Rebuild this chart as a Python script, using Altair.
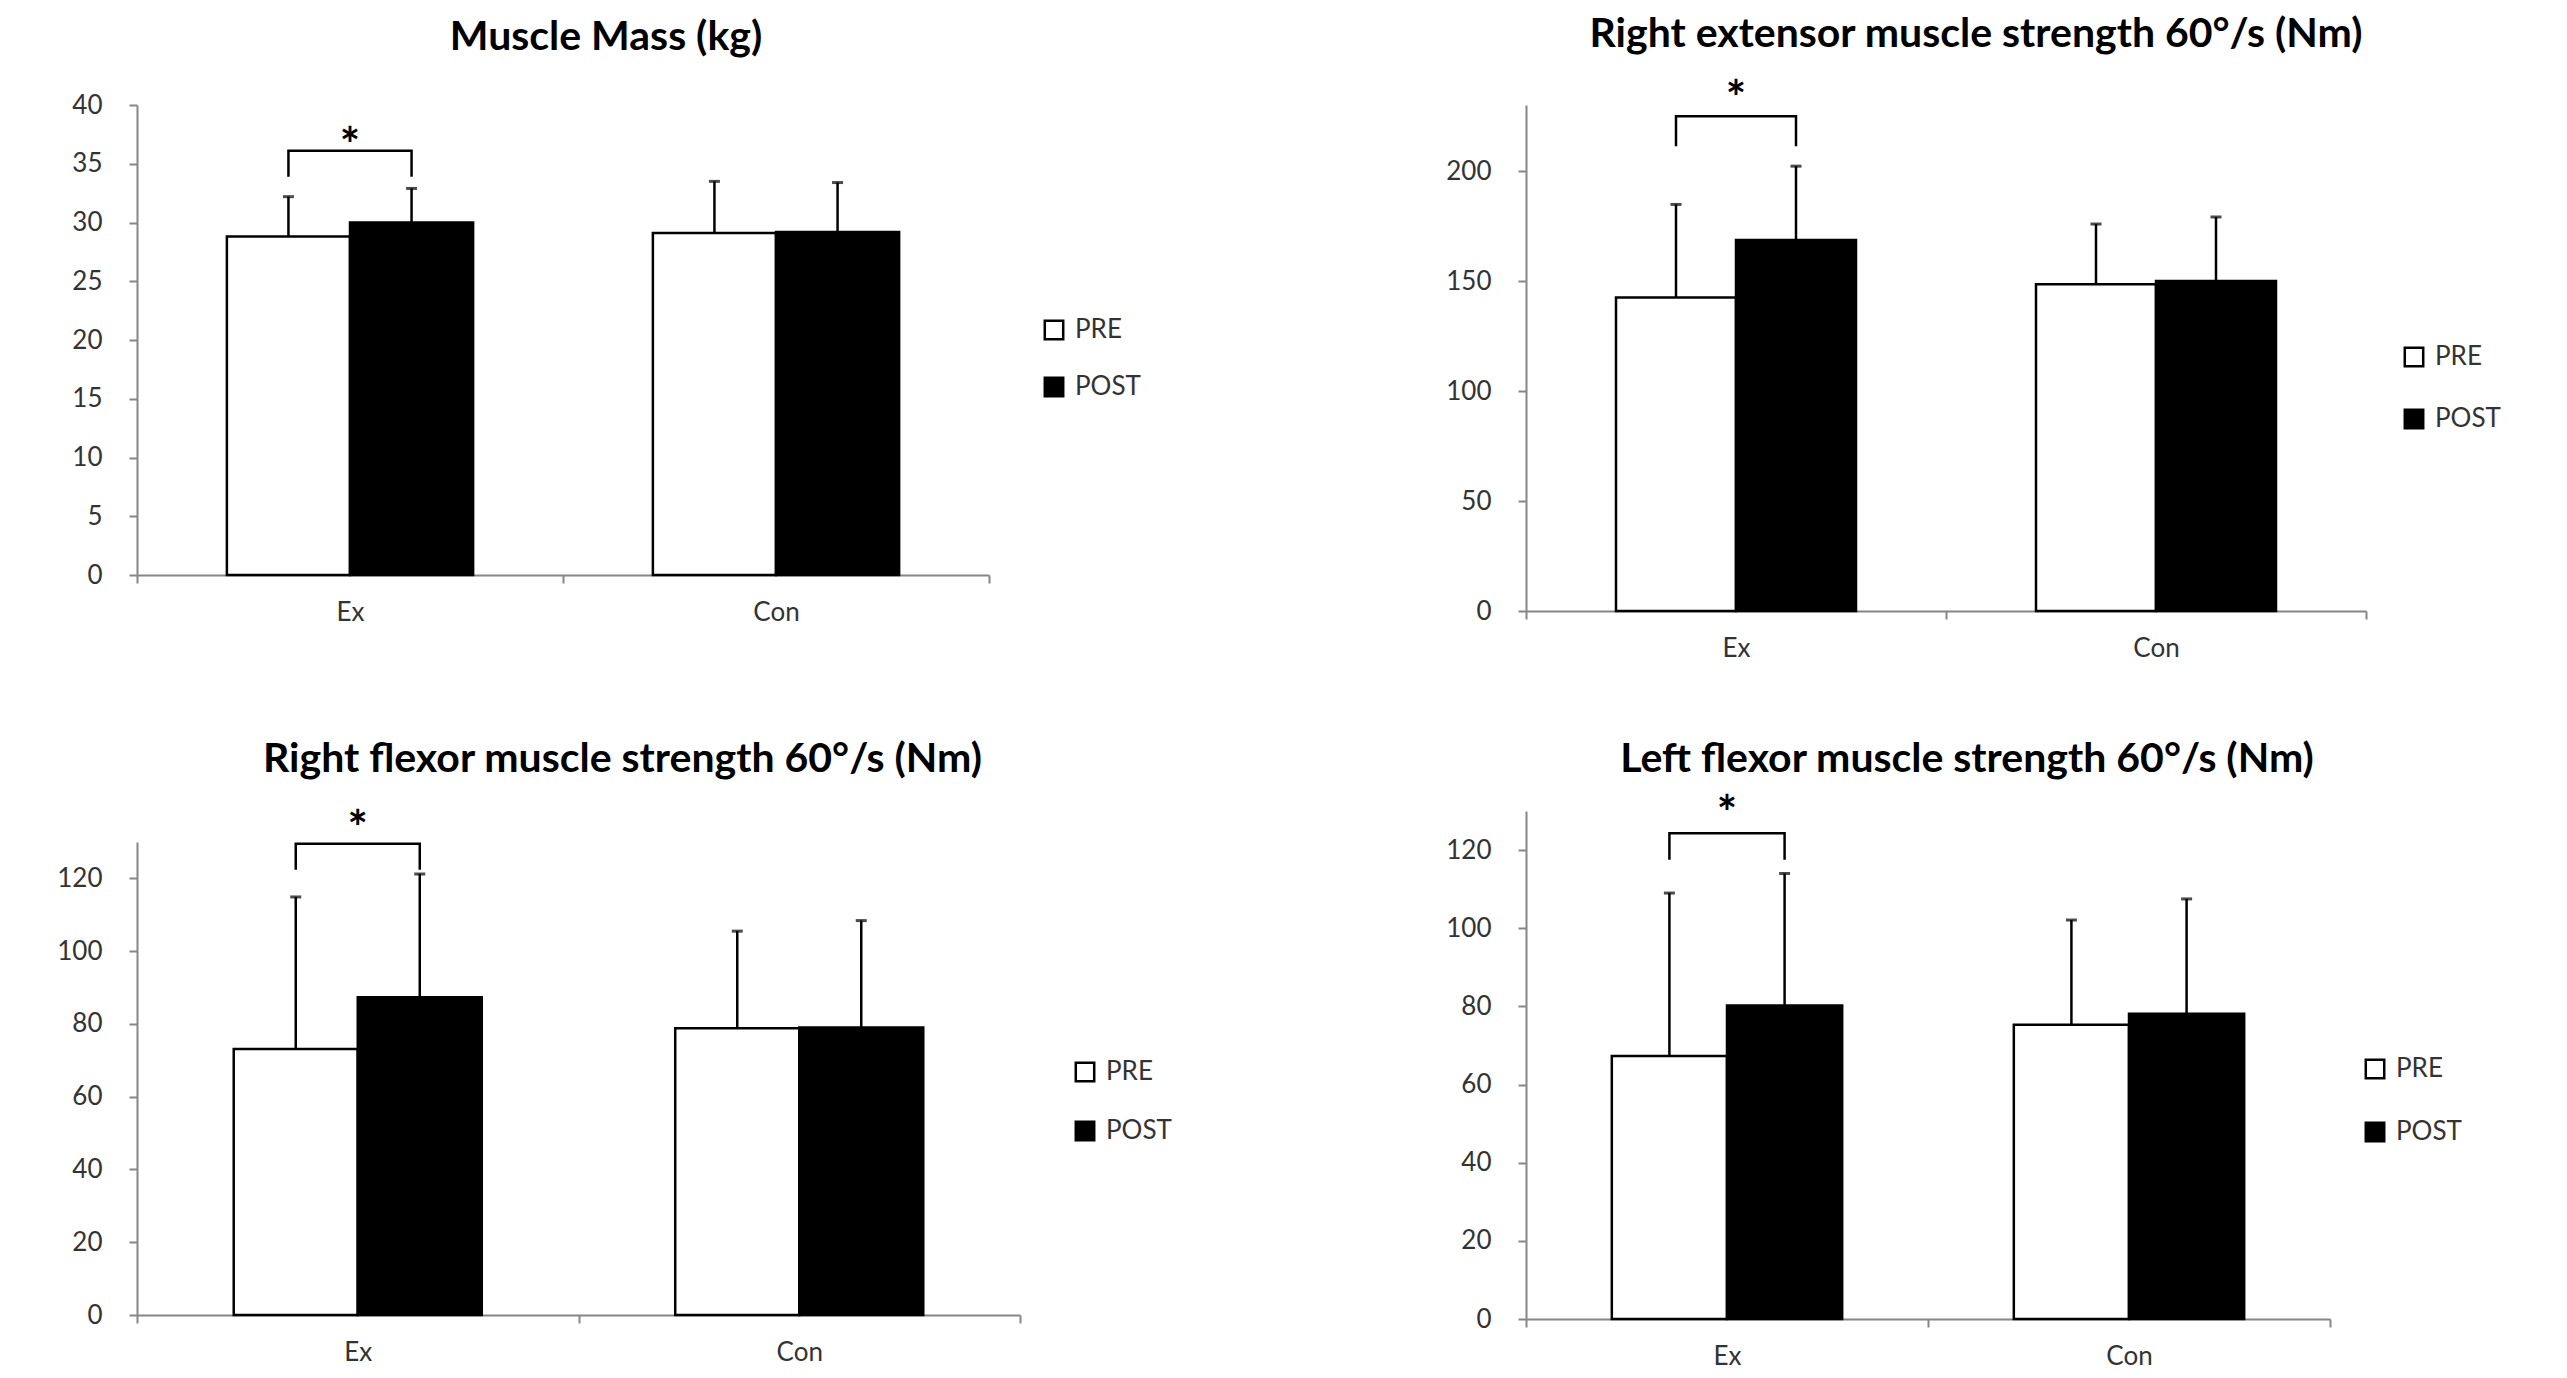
import altair as alt
import pandas as pd

FONT = "Lato"

titles = [
    "Muscle Mass (kg)",
    "Right extensor muscle strength 60°/s (Nm)",
    "Right flexor muscle strength 60°/s (Nm)",
    "Left flexor muscle strength 60°/s (Nm)",
]
groups = ["Ex", "Con"]
phases = ["PRE", "POST"]

# means: Ex-PRE, Ex-POST, Con-PRE, Con-POST (one list per panel)
means = [
    [28.8, 30.0, 29.1, 29.2],
    [142.5, 168.6, 148.5, 150.0],
    [73.1, 87.3, 78.8, 79.0],
    [67.3, 80.2, 75.3, 78.1],
]
sds = [
    [3.4, 2.9, 4.4, 4.2],
    [42.3, 33.6, 27.4, 29.1],
    [41.8, 33.9, 26.7, 29.4],
    [41.7, 33.8, 26.8, 29.4],
]
# significance bracket (leg bottom, bracket top) and asterisk position
bracket_low = [33.9, 211.3, 122.4, 117.5]
bracket_high = [36.1, 224.9, 129.5, 124.3]
star_pos = [37.3, 237.0, 136.0, 131.5]

y_max = [40, 230, 130, 130]
y_ticks = [
    [0, 5, 10, 15, 20, 25, 30, 35, 40],
    [0, 50, 100, 150, 200],
    [0, 20, 40, 60, 80, 100, 120],
    [0, 20, 40, 60, 80, 100, 120],
]

# layout (pixels)
widths = [852, 840, 883, 804]
heights = [470, 506, 473, 508]
min_extent = [129, 100, 129, 100]
title_dx = [43, 30, 44, 39]
title_offset = [33, 21, 26, 11]
legend_xy = [(904, 212), (875, 239), (935, 217), (836, 245)]
legend_rowpad = [27, 32, 29, 33]
bar_outer_pad = [0.73, 0.75, 0.78, 0.745]

AXIS_GRAY = "#868686"
LABEL = "#333333"


def panel(i):
    cats = ["Ex", "Ex", "Con", "Con"]
    ph = ["PRE", "POST", "PRE", "POST"]
    df = pd.DataFrame({
        "cat": cats,
        "phase": ph,
        "mean": means[i],
        "upper": [m + s for m, s in zip(means[i], sds[i])],
    })
    br = pd.DataFrame({
        "cat": ["Ex"] * 4,
        "phase": ["PRE", "PRE", "POST", "POST"],
        "val": [bracket_low[i], bracket_high[i], bracket_high[i], bracket_low[i]],
        "ord": [0, 1, 2, 3],
    })
    st = pd.DataFrame({"cat": ["Ex"], "val": [star_pos[i]], "txt": ["*"]})

    xs = alt.X(
        "cat:N",
        scale=alt.Scale(domain=groups, paddingInner=0, paddingOuter=0),
        axis=alt.Axis(
            title=None, labelAngle=0, tickBand="extent", grid=False,
            domainColor=AXIS_GRAY, domainWidth=2, tickColor=AXIS_GRAY,
            tickWidth=2, tickSize=8, labelPadding=16, labelFont=FONT,
            labelFontSize=26, labelColor=LABEL,
        ),
    )
    xo = alt.XOffset(
        "phase:N",
        scale=alt.Scale(domain=phases, paddingInner=0, paddingOuter=bar_outer_pad[i]),
    )
    yscale = alt.Scale(domain=[0, y_max[i]], nice=False)
    yaxis = alt.Axis(
        title=None, values=y_ticks[i], grid=False, domainColor=AXIS_GRAY,
        domainWidth=2, tickColor=AXIS_GRAY, tickWidth=2, tickSize=8,
        labelPadding=27, labelFont=FONT, labelFontSize=26, labelColor=LABEL,
        minExtent=min_extent[i], maxExtent=min_extent[i],
    )

    lx, ly = legend_xy[i]
    bars = alt.Chart(df).mark_bar(stroke="black", strokeWidth=2.5).encode(
        x=xs,
        xOffset=xo,
        y=alt.Y("mean:Q", scale=yscale, axis=yaxis),
        fill=alt.Fill(
            "phase:N",
            scale=alt.Scale(domain=phases, range=["white", "black"]),
            legend=alt.Legend(
                title=None, orient="none", legendX=lx, legendY=ly,
                symbolType="square", symbolSize=340, symbolStrokeColor="black",
                symbolStrokeWidth=2.5, labelFont=FONT, labelFontSize=26,
                labelColor=LABEL, labelOffset=8, rowPadding=legend_rowpad[i],
            ),
        ),
    )
    err = alt.Chart(df).mark_rule(color="black", strokeWidth=2.5).encode(
        x=alt.X("cat:N"), xOffset=alt.XOffset("phase:N"),
        y=alt.Y("mean:Q"), y2="upper:Q",
    )
    cap = alt.Chart(df).mark_tick(color="black", thickness=3, size=11, orient="horizontal").encode(
        x=alt.X("cat:N"), xOffset=alt.XOffset("phase:N"), y=alt.Y("upper:Q"),
    )
    bracket = alt.Chart(br).mark_line(color="black", strokeWidth=2.5).encode(
        x=alt.X("cat:N"), xOffset=alt.XOffset("phase:N"), y=alt.Y("val:Q"),
        order="ord:Q",
    )
    star = alt.Chart(st).mark_text(
        font=FONT, fontSize=48, fontWeight="bold", color="black",
        baseline="middle", dy=11,
    ).encode(x=alt.X("cat:N"), y=alt.Y("val:Q"), text="txt:N")

    return alt.layer(bars, err, cap, bracket, star).properties(
        width=widths[i], height=heights[i],
        title=alt.TitleParams(
            titles[i], font=FONT, fontSize=41, fontWeight="bold", color="black",
            anchor="middle", dx=title_dx[i], offset=title_offset[i],
        ),
    )


chart = (
    alt.concat(panel(0), panel(1), panel(2), panel(3), columns=2, align="none",
               spacing={"row": 78, "column": 254})
    .resolve_scale(x="independent", y="independent", fill="independent", xOffset="independent")
    .resolve_legend(fill="independent")
    .properties(padding={"top": 5, "left": 0, "right": 0, "bottom": 0}, background="white")
    .configure_view(stroke=None)
)

chart.save("out.html", embed_options={"renderer": "svg", "actions": False})
